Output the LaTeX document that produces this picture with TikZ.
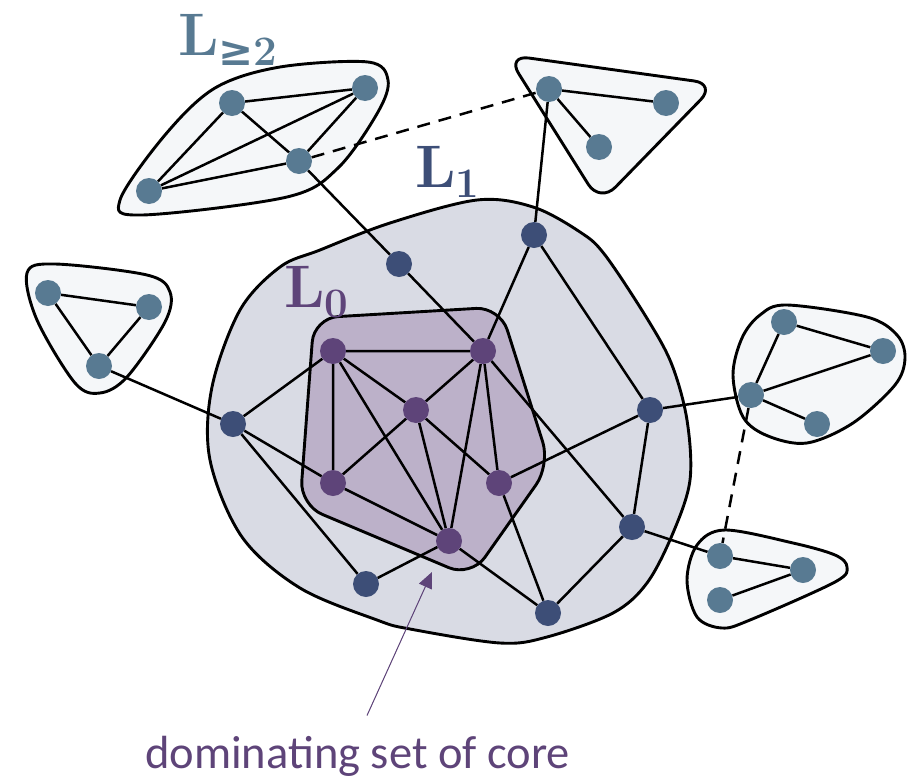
\documentclass[tikz,border=0pt]{standalone}
\usepackage{fontspec}
\usepackage{xcolor}
\usetikzlibrary{arrows.meta, calc}

\newfontfamily\notefont{Carlito}
\newfontfamily\relfont{DejaVu Serif}

\definecolor{farblue}{HTML}{587A92}
\definecolor{midblue}{HTML}{3D4E77}
\definecolor{corepurple}{HTML}{5E4479}
\definecolor{ringfill}{HTML}{D9DBE4}
\definecolor{corefill}{HTML}{BCB1C9}
\definecolor{groupfill}{HTML}{F5F7F9}

% layer name: big bold L with a lowered index
\newcommand{\layername}[1]{L\raisebox{-10pt}{\fontsize{42}{42}\selectfont #1}}

\begin{document}
\begin{tikzpicture}[
  x=1pt, y=-1pt,
  vert/.style={circle, minimum size=26pt, inner sep=0pt},
  farvert/.style={vert, fill=farblue},
  onevert/.style={vert, fill=midblue},
  corevert/.style={vert, fill=corepurple},
  conn/.style={line width=2.5pt, draw=black},
  farlink/.style={conn, dash pattern=on 13pt off 9pt},
  outline/.style={line width=2.9pt, draw=black},
  cluster/.style={outline, fill=groupfill},
  layerlabel/.style={anchor=base west, inner sep=0pt, font=\fontsize{60}{60}\selectfont\bfseries},
  note/.style={anchor=base west, inner sep=0pt, text=corepurple, font=\notefont\fontsize{46.5}{46.5}\selectfont},
  pointer/.style={-{Triangle[length=16pt, width=14pt]}, line width=1pt, draw=corepurple, fill=corepurple}
]
\useasboundingbox (0,0) rectangle (922,782);

% Regions
\draw[outline, fill=ringfill] plot[smooth cycle, tension=0.55] coordinates {
  (390,223) (477,200) (533,207) (580,232) (605,255) (648,320) (672,365) (687,420)
  (690,480) (673,533) (647,583) (613,613) (547,637) (500,643) (410,629) (377,620)
  (300,588) (242,537) (210,460) (212,387) (240,310) (280,267) (320,250)};
\draw[outline, fill=corefill, rounded corners=24pt]
  (314,318) -- (500,307) -- (550,465) -- (471,577) -- (300,505) -- cycle;

\draw[cluster] plot[smooth cycle, tension=0.55] coordinates {
  (120,200) (142,215) (287,197) (338,168) (378,112) (388,80) (368,62) (280,67) (215,88) (165,135)};
\draw[cluster, rounded corners=22pt] (507,55) -- (716,84) -- (600,203) -- cycle;
\draw[cluster] plot[smooth cycle, tension=0.55] coordinates {
  (27,273) (55,264) (147,275) (170,292) (165,322) (127,377) (100,393) (75,383) (37,320)};
\draw[cluster] plot[smooth cycle, tension=0.55] coordinates {
  (787,305) (867,317) (897,335) (905,358) (895,385) (853,423) (807,443) (768,436)
  (743,417) (733,375) (742,338) (760,315)};
\draw[cluster] plot[smooth cycle, tension=0.55] coordinates {
  (725,530) (793,543) (835,555) (847,567) (835,582) (750,620) (722,628) (697,617)
  (687,580) (697,545)};

% Labels
\node[layerlabel, text=farblue] (lgeq) at (178,55) {\layername{{\relfont\bfseries ≥}2}};
\node[layerlabel, text=midblue] (lone) at (415,187) {\layername{1}};
\node[layerlabel, text=corepurple] (lzero) at (284,307) {\layername{0}};

% Nodes
\node[corevert] (core1) at (333,351) {};
\node[corevert] (core2) at (483,351) {};
\node[corevert] (core3) at (416,410) {};
\node[corevert] (core4) at (333,483) {};
\node[corevert] (core5) at (499,483) {};
\node[corevert] (core6) at (449,541) {};

\node[onevert] (one1) at (399,264) {};
\node[onevert] (one2) at (534,235) {};
\node[onevert] (one3) at (233,424) {};
\node[onevert] (one4) at (650,410) {};
\node[onevert] (one5) at (632,527) {};
\node[onevert] (one6) at (366,584) {};
\node[onevert] (one7) at (548,613) {};

\node[farvert] (tl1) at (232,103) {};
\node[farvert] (tl2) at (365,88) {};
\node[farvert] (tl3) at (299,161) {};
\node[farvert] (tl4) at (149,191) {};
\node[farvert] (tr1) at (549,89) {};
\node[farvert] (tr2) at (666,103) {};
\node[farvert] (tr3) at (599,147) {};
\node[farvert] (lf1) at (48,293) {};
\node[farvert] (lf2) at (149,307) {};
\node[farvert] (lf3) at (99,366) {};
\node[farvert] (rt1) at (784,322) {};
\node[farvert] (rt2) at (883,351) {};
\node[farvert] (rt3) at (751,395) {};
\node[farvert] (rt4) at (817,424) {};
\node[farvert] (br1) at (720,556) {};
\node[farvert] (br2) at (803,570) {};
\node[farvert] (br3) at (720,600) {};

% Edges
\draw[conn] (core1) -- (core2) (core1) -- (core3) (core1) -- (core4) (core1) -- (core6)
  (core2) -- (core3) (core2) -- (core5) (core2) -- (core6) (core3) -- (core4)
  (core3) -- (core5) (core3) -- (core6) (core4) -- (core6);
\draw[conn] (one1) -- (core2) (one2) -- (core2) (one2) -- (one4) (one3) -- (core1)
  (one3) -- (core4) (one3) -- (one6) (one4) -- (one5) (one4) -- (core5)
  (one5) -- (core2) (one5) -- (one7) (one6) -- (core6) (one7) -- (core6) (one7) -- (core5);
\draw[conn] (tl1) -- (tl2) (tl1) -- (tl3) (tl1) -- (tl4) (tl2) -- (tl3) (tl2) -- (tl4)
  (tl3) -- (tl4) (tl3) -- (one1);
\draw[conn] (tr1) -- (tr2) (tr1) -- (tr3) (tr1) -- (one2);
\draw[conn] (lf1) -- (lf2) (lf1) -- (lf3) (lf2) -- (lf3) (lf3) -- (one3);
\draw[conn] (rt1) -- (rt2) (rt1) -- (rt3) (rt2) -- (rt3) (rt3) -- (rt4) (rt3) -- (one4);
\draw[conn] (br1) -- (br2) (br2) -- (br3) (br1) -- (one5);
\draw[farlink] (tl3) -- (tr1);
\draw[farlink] (rt3) -- (br1);

% Annotation
\node[note] (dom) at (145,768) {dominating set of core};
\coordinate (domtip) at (432,572);
\draw[pointer] ([shift={(222,-20)}]dom.north west) -- (domtip);

\end{tikzpicture}
\end{document}
